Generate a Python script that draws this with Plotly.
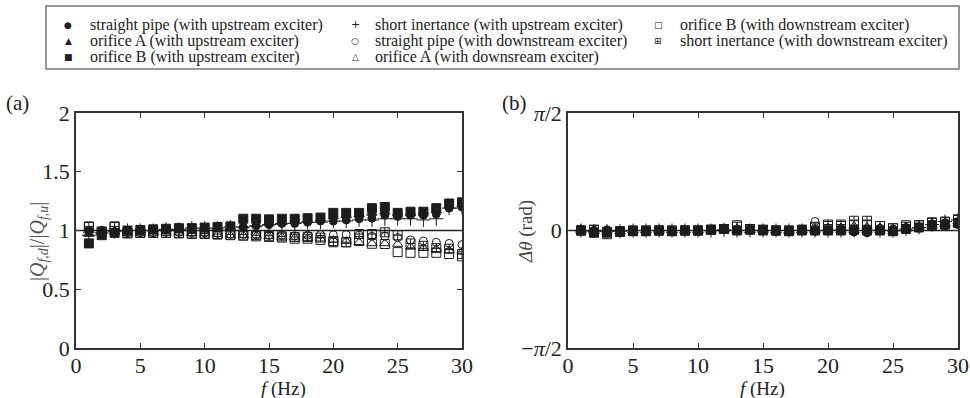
import math
import plotly.graph_objects as go

# ---------------- data ----------------
freq = list(range(1, 31))

series_names = [
    "straight pipe (with upstream exciter)",
    "orifice A (with upstream exciter)",
    "orifice B (with upstream exciter)",
    "short inertance (with upstream exciter)",
    "straight pipe (with downstream exciter)",
    "orifice A (with downsream exciter)",
    "orifice B (with downstream exciter)",
    "short inertance (with downstream exciter)",
]

# (a) amplitude ratio |Q_fd|/|Q_fu|
amp_sp_up = [1.00, 1.00, 0.99, 1.00, 1.00, 1.01, 1.01, 1.02, 1.02, 1.02, 1.02, 1.03, 1.03, 1.04, 1.05,
             1.06, 1.06, 1.07, 1.08, 1.08, 1.09, 1.10, 1.105, 1.13, 1.12, 1.13, 1.13, 1.14, 1.19, 1.20]
amp_oA_up = [0.97, 0.99, 0.99, 1.00, 1.00, 1.01, 1.01, 1.015, 1.02, 1.02, 1.025, 1.03, 1.04, 1.05, 1.06,
             1.07, 1.08, 1.09, 1.10, 1.12, 1.13, 1.14, 1.15, 1.16, 1.15, 1.15, 1.16, 1.17, 1.21, 1.22]
amp_oB_up = [0.89, 0.96, 0.98, 1.00, 1.005, 1.01, 1.015, 1.02, 1.02, 1.025, 1.03, 1.035, 1.10, 1.10, 1.095,
             1.10, 1.10, 1.105, 1.11, 1.15, 1.15, 1.15, 1.19, 1.20, 1.15, 1.16, 1.16, 1.19, 1.23, 1.24]
amp_si_up = [0.96, 0.98, 0.99, 1.00, 1.00, 1.00, 1.01, 1.01, 1.02, 1.02, 1.02, 1.03, 1.03, 1.04, 1.05,
             1.06, 1.06, 1.07, 1.07, 1.08, 1.08, 1.09, 1.09, 1.10, 1.10, 1.10, 1.09, 1.10, 1.19, 1.19]
amp_sp_dn = [1.00, 0.99, 0.99, 0.98, 0.98, 0.98, 0.985, 0.985, 0.98, 0.98, 0.975, 0.97, 0.97, 0.965, 0.96,
             0.96, 0.955, 0.96, 0.965, 0.963, 0.965, 0.96, 0.95, 0.95, 0.94, 0.92, 0.91, 0.90, 0.89, 0.88]
amp_oA_dn = [1.00, 0.99, 0.99, 0.98, 0.98, 0.98, 0.98, 0.98, 0.975, 0.975, 0.97, 0.96, 0.96, 0.955, 0.95,
             0.945, 0.94, 0.935, 0.93, 0.92, 0.91, 0.90, 0.89, 0.89, 0.885, 0.86, 0.85, 0.84, 0.83, 0.82]
amp_oB_dn = [1.03, 0.99, 1.03, 0.98, 0.98, 0.98, 0.98, 0.975, 0.97, 0.97, 0.965, 0.96, 0.955, 0.95, 0.945,
             0.94, 0.93, 0.93, 0.92, 0.91, 0.90, 0.91, 0.887, 0.885, 0.816, 0.81, 0.81, 0.81, 0.80, 0.78]
amp_si_dn = [1.035, 0.99, 1.035, 0.975, 0.98, 0.98, 0.98, 0.98, 0.975, 0.975, 0.97, 0.965, 0.965, 0.96, 0.955,
             0.95, 0.945, 0.945, 0.94, 0.90, 0.90, 0.97, 0.97, 0.985, 0.96, 0.89, 0.87, 0.85, 0.845, 0.80]

# (b) phase difference (rad)
ph_sp_up = [0.02, 0.00, 0.01, 0.00, 0.00, 0.00, 0.01, 0.00, 0.00, 0.00, 0.01, 0.01, 0.00, 0.01, 0.00,
            0.00, 0.00, 0.00, -0.01, 0.00, 0.00, -0.02, -0.03, 0.00, 0.00, 0.02, 0.03, 0.05, 0.06, 0.08]
ph_oA_up = [0.01, -0.01, 0.00, -0.01, 0.00, 0.00, 0.01, 0.00, 0.00, 0.00, 0.01, 0.01, 0.00, 0.00, 0.00,
            0.00, -0.01, 0.00, 0.00, 0.00, 0.00, 0.00, 0.00, 0.00, -0.01, 0.02, 0.03, 0.06, 0.08, 0.09]
ph_oB_up = [0.00, -0.03, -0.02, -0.02, -0.01, -0.01, 0.00, -0.01, 0.00, 0.00, 0.01, 0.02, 0.00, 0.01, 0.00,
            0.00, -0.01, 0.00, 0.00, 0.00, 0.00, 0.01, 0.00, 0.00, -0.01, 0.02, 0.04, 0.07, 0.08, 0.10]
ph_si_up = [0.00, -0.01, -0.01, -0.01, 0.00, 0.00, 0.00, 0.00, 0.00, 0.00, 0.00, 0.01, 0.00, 0.00, 0.00,
            0.00, 0.00, 0.00, 0.00, 0.00, 0.00, 0.00, 0.00, 0.00, 0.00, 0.02, 0.04, 0.08, 0.12, 0.14]
ph_sp_dn = [0.00, 0.00, -0.02, -0.01, 0.00, 0.00, 0.00, 0.00, 0.00, 0.00, 0.00, 0.01, 0.02, 0.00, 0.00,
            0.00, 0.00, 0.01, 0.12, 0.03, 0.02, 0.02, 0.01, 0.03, 0.02, 0.04, 0.05, 0.09, 0.10, 0.12]
ph_oA_dn = [0.00, 0.00, -0.03, -0.01, 0.00, 0.00, 0.00, 0.00, 0.00, 0.00, 0.00, 0.01, 0.03, 0.00, 0.01,
            0.00, 0.00, 0.00, 0.02, 0.04, 0.04, 0.06, 0.05, 0.04, 0.02, 0.05, 0.05, 0.08, 0.10, 0.12]
ph_oB_dn = [0.00, 0.01, -0.05, -0.01, 0.00, 0.00, 0.00, 0.00, 0.00, 0.00, 0.01, 0.02, 0.07, 0.02, 0.01,
            0.00, 0.00, 0.01, 0.05, 0.06, 0.06, 0.08, 0.08, 0.06, 0.03, 0.07, 0.07, 0.10, 0.11, 0.14]
ph_si_dn = [0.00, 0.01, -0.03, -0.01, 0.00, 0.00, 0.00, 0.00, 0.00, 0.00, 0.01, 0.02, 0.05, 0.02, 0.01,
            0.00, 0.00, 0.01, 0.04, 0.08, 0.08, 0.13, 0.13, 0.06, 0.03, 0.05, 0.07, 0.11, 0.12, 0.15]

amp_ticks = [0, 0.5, 1, 1.5, 2]
amp_ticktext = ["0", "0.5", "1", "1.5", "2"]
phase_ticks = [-math.pi / 2, 0, math.pi / 2]
phase_ticktext = ["\u2212<i>\u03c0</i>/2", "0", "<i>\u03c0</i>/2"]
freq_ticks = [0, 5, 10, 15, 20, 25, 30]
amp_ref = 1
phase_ref = 0

# ---------------- styling ----------------
INK = "#1c1c1c"
FONT = "Liberation Serif"
styles = {
    "straight pipe (with upstream exciter)": dict(symbol="circle", size=8),
    "orifice A (with upstream exciter)": dict(symbol="triangle-up", size=9),
    "orifice B (with upstream exciter)": dict(symbol="square", size=9),
    "short inertance (with upstream exciter)": dict(symbol="cross-thin-open", size=10),
    "straight pipe (with downstream exciter)": dict(symbol="circle-open", size=8),
    "orifice A (with downsream exciter)": dict(symbol="triangle-up-open", size=9),
    "orifice B (with downstream exciter)": dict(symbol="square-open", size=9),
    "short inertance (with downstream exciter)": dict(symbol="square-cross-open", size=9),
}
legend_glyph = {
    "straight pipe (with upstream exciter)": "\u25cf",
    "orifice A (with upstream exciter)": "\u25b2",
    "orifice B (with upstream exciter)": "\u25a0",
    "short inertance (with upstream exciter)": "+",
    "straight pipe (with downstream exciter)": "\u25cb",
    "orifice A (with downsream exciter)": "\u25b3",
    "orifice B (with downstream exciter)": "\u25a1",
    "short inertance (with downstream exciter)": "\u229e",
}

amp_data = dict(zip(series_names, [amp_sp_up, amp_oA_up, amp_oB_up, amp_si_up,
                                   amp_sp_dn, amp_oA_dn, amp_oB_dn, amp_si_dn]))
ph_data = dict(zip(series_names, [ph_sp_up, ph_oA_up, ph_oB_up, ph_si_up,
                                  ph_sp_dn, ph_oA_dn, ph_oB_dn, ph_si_dn]))

draw_order = [series_names[i] for i in (7, 6, 5, 4, 3, 0, 1, 2)]

fig = go.Figure()
for name in draw_order:
    st = styles[name]
    mk = dict(symbol=st["symbol"], size=st["size"], color=INK, line=dict(color=INK, width=1))
    fig.add_trace(go.Scatter(x=freq, y=amp_data[name], mode="markers", marker=mk,
                             name=name, showlegend=False, xaxis="x", yaxis="y"))
    fig.add_trace(go.Scatter(x=freq, y=ph_data[name], mode="markers", marker=mk,
                             name=name, showlegend=False, xaxis="x2", yaxis="y2"))

W, H = 970, 398
def px(v): return v / W
def py(v): return 1 - v / H

axis_common = dict(showgrid=False, zeroline=False, showline=True, linecolor="#333", linewidth=1.5,
                   mirror="ticks", ticks="inside", ticklen=5, tickwidth=1, tickcolor="#333",
                   tickfont=dict(family=FONT, size=22, color="#222"))

fig.update_layout(
    width=W, height=H, margin=dict(l=0, r=0, t=0, b=0),
    template="none",
    paper_bgcolor="white", plot_bgcolor="white",
    font=dict(family=FONT, color="#222"),
    xaxis=dict(domain=[px(76), px(462)], range=[0, 30], tickvals=freq_ticks, anchor="y",
               ticklabelstandoff=-3, **axis_common),
    yaxis=dict(domain=[py(348), py(113)], range=[0, 2], tickvals=amp_ticks, ticktext=amp_ticktext,
               anchor="x", **axis_common),
    xaxis2=dict(domain=[px(568), px(958)], range=[0, 30], tickvals=freq_ticks, anchor="y2",
                ticklabelstandoff=-3, **axis_common),
    yaxis2=dict(domain=[py(348), py(113)], range=[-math.pi / 2, math.pi / 2], tickvals=phase_ticks,
                ticktext=phase_ticktext, anchor="x2", **axis_common),
    showlegend=False,
)

# reference lines
fig.add_shape(type="line", xref="x domain", yref="y", x0=0, x1=1, y0=amp_ref, y1=amp_ref,
              line=dict(color="#222", width=1.3), layer="below")
fig.add_shape(type="line", xref="x2 domain", yref="y2", x0=0, x1=1, y0=phase_ref, y1=phase_ref,
              line=dict(color="#222", width=1.3), layer="below")

# legend box
fig.add_shape(type="rect", xref="paper", yref="paper", x0=px(46), x1=px(959), y0=py(69), y1=py(6),
              line=dict(color="#777", width=1.5), fillcolor="rgba(0,0,0,0)")

legend_layout = [
    (series_names[0], 0, 0), (series_names[1], 0, 1), (series_names[2], 0, 2),
    (series_names[3], 1, 0), (series_names[4], 1, 1), (series_names[5], 1, 2),
    (series_names[6], 2, 0), (series_names[7], 2, 1),
]
col_sym = [68, 355, 658]
col_txt = [88, 373, 678]
row_y = [24.5, 41, 57.5]
for name, c, r in legend_layout:
    g = legend_glyph[name]
    gsize = 11 if g == "+" else 9
    fig.add_annotation(xref="paper", yref="paper", x=px(col_sym[c]), y=py(row_y[r]), text=g,
                       showarrow=False, xanchor="center", yanchor="middle",
                       font=dict(family="DejaVu Sans", size=gsize, color="#222"))
    fig.add_annotation(xref="paper", yref="paper", x=px(col_txt[c]), y=py(row_y[r]), text=name,
                       showarrow=False, xanchor="left", yanchor="middle",
                       font=dict(family=FONT, size=16, color="#222"))

# panel labels
fig.add_annotation(xref="paper", yref="paper", x=px(4), y=py(103), text="(a)", showarrow=False,
                   xanchor="left", yanchor="middle", font=dict(family=FONT, size=21, color="#222"))
fig.add_annotation(xref="paper", yref="paper", x=px(500), y=py(103), text="(b)", showarrow=False,
                   xanchor="left", yanchor="middle", font=dict(family=FONT, size=21, color="#222"))

# axis titles
fig.add_annotation(xref="paper", yref="paper", x=px(283), y=py(389), text="<i>f</i> (Hz)", showarrow=False,
                   xanchor="center", yanchor="middle", font=dict(family=FONT, size=19, color="#222"))
fig.add_annotation(xref="paper", yref="paper", x=px(762), y=py(389), text="<i>f</i> (Hz)", showarrow=False,
                   xanchor="center", yanchor="middle", font=dict(family=FONT, size=19, color="#222"))
fig.add_annotation(xref="paper", yref="paper", x=px(38), y=py(242),
                   text="|<i>Q</i><sub><i>f,d</i></sub>|/|<i>Q</i><sub><i>f,u</i></sub>|",
                   textangle=-90, showarrow=False, xanchor="center", yanchor="middle",
                   font=dict(family=FONT, size=20, color="#555"))
fig.add_annotation(xref="paper", yref="paper", x=px(526), y=py(232),
                   text="<i>\u0394\u03b8</i> (rad)",
                   textangle=-90, showarrow=False, xanchor="center", yanchor="middle",
                   font=dict(family=FONT, size=19, color="#444"))

fig.write_html(
    "out.html",
    post_script="document.body.style.margin='0';document.body.style.overflow='hidden';",
)
